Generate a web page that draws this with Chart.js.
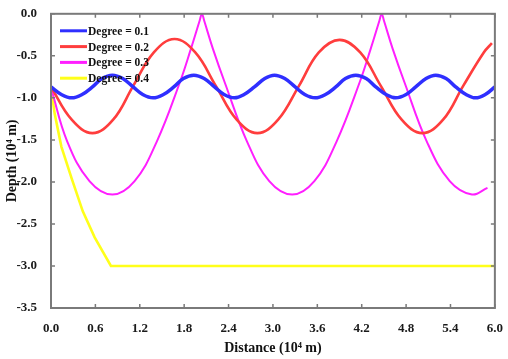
<!DOCTYPE html>
<html>
<head>
<meta charset="utf-8">
<script src="https://cdn.jsdelivr.net/npm/chart.js@4.4.1/dist/chart.umd.min.js"></script>
<style>
  html, body { margin: 0; padding: 0; background: #ffffff; }
  #wrap { width: 508px; height: 359px; }
</style>
</head>
<body>
<div id="wrap"><canvas id="depthChart" width="508" height="359"></canvas></div>
<script>
// Depth profiles (distance and depth in 10^4 m)
const deg01Dist = [0, 0.14, 0.28, 0.42, 0.56, 0.69, 0.83, 0.97, 1.11, 1.24, 1.38, 1.52, 1.66, 1.79, 1.93, 2.07, 2.21, 2.34, 2.48, 2.61, 2.75, 2.89, 3.02, 3.16, 3.30, 3.43, 3.57, 3.71, 3.85, 3.98, 4.12, 4.26, 4.39, 4.53, 4.66, 4.80, 4.93, 5.07, 5.20, 5.34, 5.47, 5.61, 5.74, 5.87, 6.0];
const deg01Depth = [-0.87, -0.96, -1.0, -0.96, -0.87, -0.77, -0.73, -0.77, -0.87, -0.96, -1.0, -0.96, -0.87, -0.77, -0.73, -0.77, -0.87, -0.96, -1.0, -0.96, -0.87, -0.77, -0.73, -0.77, -0.87, -0.96, -1.0, -0.96, -0.87, -0.77, -0.73, -0.77, -0.87, -0.96, -1.0, -0.96, -0.87, -0.77, -0.73, -0.77, -0.87, -0.96, -1.0, -0.96, -0.87];

const deg02Dist = [0, 0.28, 0.56, 0.84, 1.11, 1.39, 1.67, 1.95, 2.23, 2.51, 2.79, 3.07, 3.35, 3.62, 3.90, 4.18, 4.46, 4.74, 5.02, 5.30, 5.57, 5.85, 5.96];
const deg02Depth = [-0.87, -1.26, -1.42, -1.26, -0.86, -0.46, -0.30, -0.46, -0.86, -1.26, -1.42, -1.26, -0.86, -0.46, -0.31, -0.46, -0.86, -1.26, -1.42, -1.26, -0.86, -0.46, -0.35];

const deg03Dist = [0, 0.22, 0.52, 0.83, 1.13, 1.43, 1.74, 1.89, 2.01, 2.04, 2.07, 2.19, 2.35, 2.65, 2.95, 3.26, 3.56, 3.86, 4.17, 4.32, 4.44, 4.47, 4.50, 4.62, 4.78, 5.08, 5.39, 5.69, 5.90];
const deg03Depth = [-0.88, -1.52, -1.99, -2.15, -1.99, -1.52, -0.82, -0.42, -0.08, 0, -0.08, -0.42, -0.82, -1.52, -1.99, -2.15, -1.99, -1.52, -0.82, -0.42, -0.08, 0, -0.08, -0.42, -0.82, -1.52, -1.99, -2.15, -2.07];

const deg04Dist = [0, 0.05, 0.14, 0.28, 0.43, 0.59, 0.81, 6.0];
const deg04Depth = [-0.88, -1.19, -1.58, -1.96, -2.35, -2.66, -3.0, -3.0];

const seriesLabels = ['Degree = 0.1', 'Degree = 0.2', 'Degree = 0.3', 'Degree = 0.4'];
const xTickValues = [0, 0.6, 1.2, 1.8, 2.4, 3.0, 3.6, 4.2, 4.8, 5.4, 6.0];
const yTickValues = [0, -0.5, -1.0, -1.5, -2.0, -2.5, -3.0, -3.5];

function toPoints(xs, ys) {
    return xs.map((x, i) => ({ x: x, y: ys[i] }));
}

const serif = "'Liberation Serif', 'Times New Roman', serif";

// Box frame with inward ticks on all four sides
const framePlugin = {
    id: 'frame',
    afterDraw(chart) {
        const { ctx, chartArea: a, scales } = chart;
        ctx.save();
        ctx.strokeStyle = '#7a7a7a';
        ctx.lineWidth = 1.5;
        const len = 4;
        scales.x.ticks.forEach((t, i) => {
            const px = scales.x.getPixelForTick(i);
            ctx.beginPath();
            ctx.moveTo(px, a.bottom); ctx.lineTo(px, a.bottom - len);
            ctx.moveTo(px, a.top); ctx.lineTo(px, a.top + len);
            ctx.stroke();
        });
        scales.y.ticks.forEach((t, i) => {
            const py = scales.y.getPixelForTick(i);
            ctx.beginPath();
            ctx.moveTo(a.left, py); ctx.lineTo(a.left + len, py);
            ctx.moveTo(a.right, py); ctx.lineTo(a.right - len, py);
            ctx.stroke();
        });
        ctx.lineWidth = 2;
        ctx.strokeRect(a.left, a.top, a.right - a.left, a.bottom - a.top);
        ctx.restore();
    }
};

// Legend drawn inside the plot, top left
const insideLegend = {
    id: 'insideLegend',
    afterDatasetsDraw(chart) {
        const { ctx, chartArea: a } = chart;
        ctx.save();
        ctx.font = "bold 11.5px " + serif;
        ctx.textBaseline = 'middle';
        ctx.fillStyle = '#111';
        chart.data.datasets.forEach((ds, i) => {
            const y = a.top + 17 + i * 15.8;
            ctx.strokeStyle = ds.borderColor;
            ctx.lineWidth = 3;
            ctx.beginPath();
            ctx.moveTo(a.left + 9, y);
            ctx.lineTo(a.left + 36, y);
            ctx.stroke();
            ctx.fillText(ds.label, a.left + 37, y + 1);
        });
        ctx.restore();
    }
};

document.addEventListener('DOMContentLoaded', function() {
    const ctx = document.getElementById('depthChart');
    new Chart(ctx, {
        type: 'line',
        data: {
            datasets: [{
                label: seriesLabels[0],
                data: toPoints(deg01Dist, deg01Depth),
                borderColor: '#2f2fff',
                borderWidth: 3.5,
                tension: 0.4
            }, {
                label: seriesLabels[1],
                data: toPoints(deg02Dist, deg02Depth),
                borderColor: '#ff3d3d',
                borderWidth: 2.6,
                tension: 0.4
            }, {
                label: seriesLabels[2],
                data: toPoints(deg03Dist, deg03Depth),
                borderColor: '#ff1fff',
                borderWidth: 2,
                tension: 0.4
            }, {
                label: seriesLabels[3],
                data: toPoints(deg04Dist, deg04Depth),
                borderColor: '#ffff1a',
                borderWidth: 2.6,
                tension: 0
            }]
        },
        options: {
            responsive: false,
            animation: false,
            layout: {
                padding: { top: 5, right: 9, left: 0, bottom: 0 }
            },
            elements: {
                point: { radius: 0 }
            },
            plugins: {
                legend: { display: false },
                tooltip: { enabled: false }
            },
            scales: {
                x: {
                    type: 'linear',
                    min: 0,
                    max: 6,
                    afterBuildTicks: scale => { scale.ticks = xTickValues.map(v => ({ value: v })); },
                    afterFit: scale => { scale.height = 51; },
                    grid: { display: false },
                    border: { display: false },
                    ticks: {
                        autoSkip: false,
                        maxRotation: 0,
                        padding: 5,
                        color: '#1a1a1a',
                        font: { family: serif, size: 13, weight: 'bold' },
                        callback: v => v.toFixed(1)
                    },
                    title: {
                        display: true,
                        text: 'Distance (10⁴ m)',
                        color: '#111',
                        padding: { top: 0, bottom: 2 },
                        font: { family: serif, size: 14, weight: 'bold' }
                    }
                },
                y: {
                    min: -3.5,
                    max: 0,
                    afterBuildTicks: scale => { scale.ticks = yTickValues.map(v => ({ value: v })); },
                    afterFit: scale => { scale.width = 51; },
                    grid: { display: false },
                    border: { display: false },
                    ticks: {
                        autoSkip: false,
                        padding: 6,
                        color: '#1a1a1a',
                        font: { family: serif, size: 13, weight: 'bold' },
                        callback: v => v.toFixed(1)
                    },
                    title: {
                        display: true,
                        text: 'Depth (10⁴ m)',
                        color: '#111',
                        padding: { top: 4, bottom: 0 },
                        font: { family: serif, size: 14, weight: 'bold' }
                    }
                }
            }
        },
        plugins: [framePlugin, insideLegend]
    });
});
</script>
</body>
</html>
